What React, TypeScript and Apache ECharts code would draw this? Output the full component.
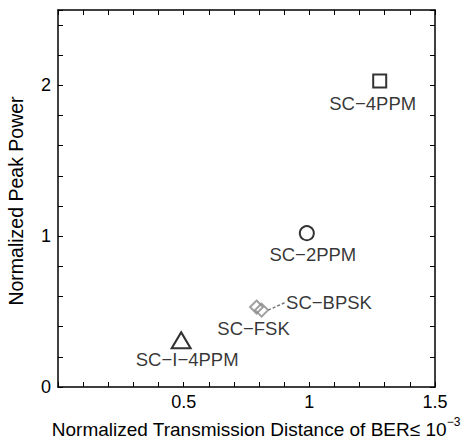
import React, { useEffect, useRef } from "react";
import * as echarts from "echarts";

// Modulation schemes: normalized transmission distance (BER ≤ 1e-3) vs. normalized peak power
const schemes = ["SC−4PPM", "SC−2PPM", "SC−BPSK", "SC−FSK", "SC−I−4PPM"];
const distance = [1.28, 0.99, 0.81, 0.79, 0.49];
const peakPower = [2.03, 1.02, 0.51, 0.53, 0.31];

const xTickLabels = ["0.5", "1", "1.5"];
const yTickLabels = ["0", "1", "2"];

const FONT = "'Liberation Sans', Arial, sans-serif";
const INK = "#000";

// label nudges (px) for each scheme, applied through labelLayout
const labelShift = [
  { dx: -7, dy: 0 },
  { dx: 6, dy: 0 },
  { dx: 13, dy: -8 },
  { dx: -3, dy: 0 },
  { dx: 6, dy: 0 },
];

const near = (v: number, list: string[]) =>
  list.find((s) => Math.abs(parseFloat(s) - v) < 1e-6);

export default function App() {
  const ref = useRef<HTMLDivElement>(null);

  useEffect(() => {
    if (!ref.current) return;
    const chart = echarts.init(ref.current, undefined, { renderer: "svg" });

    const labelBase = {
      show: true,
      color: INK,
      fontFamily: FONT,
      fontSize: 18.5,
    };

    const point = (i: number, symbol: string, size: number | number[], color: string, label: any, extra: any = {}) => ({
      value: [distance[i], peakPower[i]],
      name: schemes[i],
      symbol,
      symbolSize: size,
      itemStyle: { color: "transparent", borderColor: color, borderWidth: 2 },
      label: { ...labelBase, formatter: schemes[i], ...label },
      ...extra,
    });

    const axisCommon = {
      min: 0,
      axisLine: { show: true, onZero: false, lineStyle: { color: INK, width: 1.5 } },
      axisTick: { show: true, inside: true, length: 5, lineStyle: { color: INK, width: 1 } },
      splitLine: { show: false },
    };

    chart.setOption({
      animation: false,
      backgroundColor: "#fff",
      grid: { left: 58, right: 27, top: 10, bottom: 56 },
      xAxis: [
        {
          ...axisCommon,
          type: "value",
          max: 1.5,
          interval: 0.1,
          position: "bottom",
          axisLabel: {
            color: INK,
            fontFamily: FONT,
            fontSize: 18,
            margin: 6,
            formatter: (v: number) => near(v, xTickLabels) ?? "",
          },
        },
        {
          ...axisCommon,
          type: "value",
          max: 1.5,
          interval: 0.1,
          position: "top",
          axisLabel: { show: false },
        },
      ],
      yAxis: [
        {
          ...axisCommon,
          type: "value",
          max: 2.5,
          interval: 0.2,
          position: "left",
          axisLabel: {
            color: INK,
            fontFamily: FONT,
            fontSize: 18,
            margin: 7,
            formatter: (v: number) => near(v, yTickLabels) ?? "",
          },
        },
        {
          ...axisCommon,
          type: "value",
          max: 2.5,
          interval: 0.2,
          position: "right",
          axisLabel: { show: false },
        },
      ],
      graphic: [
        {
          type: "text",
          x: 16,
          y: 201,
          rotation: Math.PI / 2,
          style: {
            text: "Normalized Peak Power",
            fontFamily: FONT,
            fontSize: 19.5,
            fill: INK,
            align: "center",
            verticalAlign: "middle",
          },
        },
        {
          type: "text",
          x: 256,
          y: 429,
          style: {
            text: "{t|Normalized Transmission Distance of BER≤ 10}{s|−3}",
            fontFamily: FONT,
            fill: INK,
            align: "center",
            verticalAlign: "middle",
            rich: {
              t: { fontFamily: FONT, fontSize: 19, fill: INK },
              s: { fontFamily: FONT, fontSize: 12, fill: INK, verticalAlign: "top", padding: [0, 0, 14, 0] },
            },
          },
        },
      ],
      series: [
        {
          type: "scatter",
          xAxisIndex: 0,
          yAxisIndex: 0,
          silent: true,
          labelLayout: (params: any) => labelShift[params.dataIndex] ?? {},
          labelLine: { show: false },
          data: [
            point(0, "rect", 13, INK, { position: "bottom", distance: 6 }),
            point(1, "circle", 14, INK, { position: "bottom", distance: 4 }),
            point(2, "diamond", 13, "#888", { position: "right", distance: 4 }, {
              // SC−BPSK is pulled away from its marker and tied back with a leader line
              labelLine: { show: true, smooth: false, length2: 0, lineStyle: { color: "#777", width: 1.5, type: [3, 2] } },
            }),
            point(3, "diamond", 13, "#888", { position: "bottom", distance: 4 }),
            point(4, "triangle", [19, 16], INK, { position: "bottom", distance: 1 }),
          ],
        },
      ],
    });

    return () => chart.dispose();
  }, []);

  return (
    <div
      ref={ref}
      style={{ position: "fixed", left: 0, top: 0, width: 462, height: 443 }}
    />
  );
}
